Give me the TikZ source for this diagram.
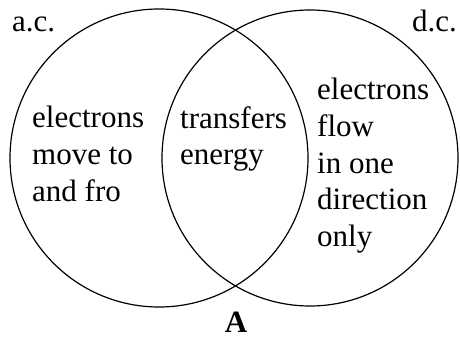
\documentclass[tikz,border=0pt]{standalone}
\usepackage{fontspec}
\setmainfont{Liberation Serif}
\begin{document}
\begin{tikzpicture}[x=1pt,y=-1pt,
  circ/.style={draw=black,line width=1.2pt},
  lbl/.style={inner sep=0pt,anchor=base west,font=\fontsize{31}{36.7}\selectfont},
  blk/.style={inner sep=0pt,anchor=north west,align=left,font=\fontsize{31}{36.7}\selectfont}]
\useasboundingbox (0,0) rectangle (460,339);
\draw[circ] (159,158) circle[radius=149];
\draw[circ] (310,158) circle[radius=148];
\node[lbl] (ac) at (12,32) {a.c.};
\node[lbl] (dc) at (412,32) {d.c.};
\node[blk] (left) at (32,106) {electrons\\move to\\and fro};
\node[blk] (mid) at (180,106) {transfers\\energy};
\node[blk] (right) at (317,78) {electrons\\flow\\in one\\direction\\only};
\node[inner sep=0pt,anchor=base,font=\fontsize{31}{36.7}\selectfont\bfseries] (A) at (236,332) {A};
\end{tikzpicture}
\end{document}
